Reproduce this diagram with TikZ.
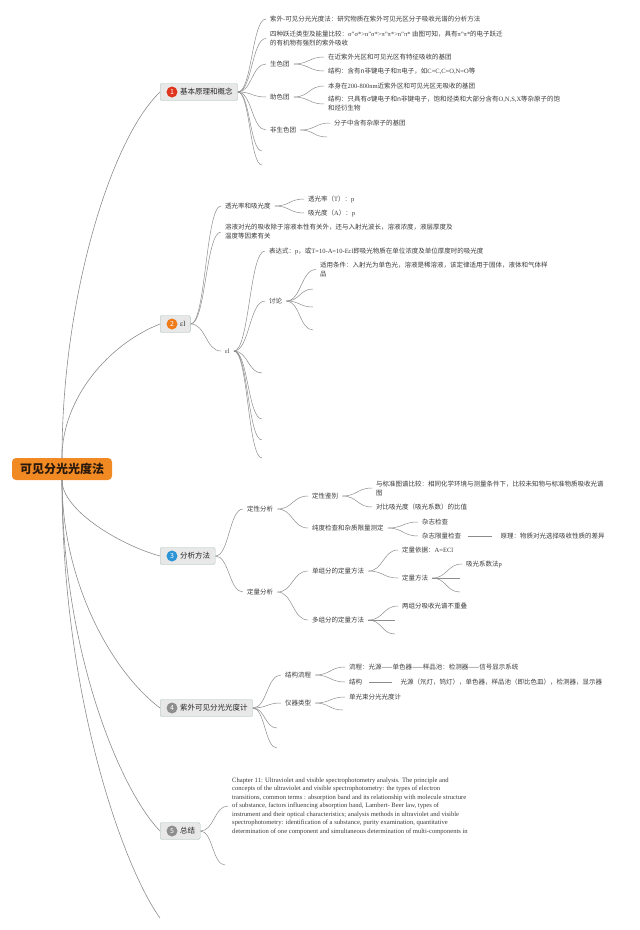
\documentclass[tikz,border=0pt]{standalone}
\usepackage{fontspec}
\setmainfont{Noto Sans CJK SC}
\newfontfamily\lat{Liberation Serif}
\usetikzlibrary{positioning, calc}
\definecolor{rootorange}{HTML}{F28A24}
\definecolor{roottext}{HTML}{2A1A0C}
\definecolor{topicfill}{HTML}{E8E8E8}
\definecolor{topicline}{HTML}{A9C2BA}
\definecolor{linegray}{HTML}{8C8C8C}
\definecolor{textgray}{HTML}{3A3A3A}
\definecolor{numred}{HTML}{E0341F}
\definecolor{numorange}{HTML}{F07B1B}
\definecolor{numblue}{HTML}{2D94D6}
\definecolor{numgray}{HTML}{8E8E8E}
\tikzstyle{root} = [rectangle, rounded corners=4pt, fill=rootorange, text=roottext,
                  minimum width=100pt, minimum height=22pt, font=\bfseries\fontsize{12}{12}\selectfont]
\tikzstyle{topic} = [rectangle, draw=topicline, fill=topicfill, rounded corners=1.5pt, anchor=west,
                  minimum height=17pt, inner xsep=5pt, text=black!85, font=\fontsize{7.5}{7.5}\selectfont]
\tikzstyle{num} = [circle, inner sep=0pt, minimum size=11pt, text=white, font=\fontsize{7}{7}\selectfont]
\tikzstyle{leaf} = [anchor=west, inner xsep=4pt, inner ysep=1pt, align=left, text=textgray,
                  font=\fontsize{6.5}{9}\selectfont]
\tikzstyle{para} = [leaf, font=\lat\fontsize{6.6}{8.5}\selectfont]
\tikzstyle{trunk} = [draw=linegray, line width=0.6pt]
\tikzstyle{branch} = [draw=linegray, line width=0.5pt,
                  to path={.. controls ($(\tikztostart)!0.5!(\tikztotarget |- \tikztostart)$)
                  and ($(\tikztotarget)!0.5!(\tikztostart |- \tikztotarget)$) .. (\tikztotarget)}]
\tikzstyle{link} = [draw=linegray, line width=0.5pt, shorten <=3pt, shorten >=4pt]
\begin{document}
\begin{tikzpicture}
        [x=1pt, y=-1pt]
        \useasboundingbox (0,0) rectangle (640,930);
        \node [root] (root) at (62,469) {可见分光光度法};

        \node [topic] (t1) at (160,92) {\hspace{15pt}基本原理和概念};
        \node [num, fill=numred] (n1) at ([xshift=12pt]t1.west) {1};
        \node [leaf] (a1) at (266,19) {紫外-可见分光光度法：研究物质在紫外可见光区分子吸收光谱的分析方法};
        \node [leaf] (a2) at (266,38.5) {四种跃迁类型及能量比较：{\lat σ”σ*>n”σ*>π”π*>n”π*} 由图可知，具有{\lat π”π*}的电子跃迁\\的有机物有强烈的紫外吸收};
        \node [leaf] (a3) at (266,64) {生色团};
        \node [leaf] (a31) at (324,57) {在近紫外光区和可见光区有特征吸收的基团};
        \node [leaf] (a32) at (324,71) {结构：含有n非键电子和π电子，如{\lat C=C,C=O,N=O}等};
        \node [leaf] (a4) at (266,97) {助色团};
        \node [leaf] (a41) at (324,86) {本身在{\lat 200-800nm}近紫外区和可见光区无吸收的基团};
        \node [leaf] (a42) at (324,104) {结构：只具有σ键电子和n非键电子，饱和烃类和大部分含有{\lat O,N,S,X}等杂原子的饱\\和烃衍生物};
        \node [leaf] (a5) at (266,130) {非生色团};
        \node [leaf] (a51) at (330,123) {分子中含有杂原子的基团};
        \coordinate (a52) at (327,137);
        \coordinate (a6) at (262,151);
        \coordinate (a7) at (262,165);

        \node [topic] (t2) at (160,324) {\hspace{15pt}{\lat εl}};
        \node [num, fill=numorange] (n2) at ([xshift=12pt]t2.west) {2};
        \node [leaf] (b1) at (221,206) {透光率和吸光度};
        \node [leaf] (b11) at (304,199) {透光率（{\lat T}）：{\lat p}};
        \node [leaf] (b12) at (304,213) {吸光度（{\lat A}）：{\lat p}};
        \node [leaf] (b2) at (221,232) {溶液对光的吸收除于溶液本性有关外，还与入射光波长，溶液浓度，液层厚度及\\温度等因素有关};
        \node [leaf] (b3) at (221,351) {{\lat εl}};
        \node [leaf] (b31) at (265,251) {表达式：{\lat p}，或{\lat T=10-A=10-Ecl}即吸光物质在单位浓度及单位厚度时的吸光度};
        \node [leaf] (b32) at (265,301) {讨论};
        \node [leaf] (b321) at (316,269.5) {适用条件：入射光为单色光，溶液是稀溶液，该定律适用于固体，液体和气体样\\品};
        \coordinate (b322) at (313,289);
        \coordinate (b323) at (313,307);
        \coordinate (b324) at (313,330);
        \coordinate (b33) at (262,373);
        \coordinate (b34) at (262,419);
        \coordinate (b35) at (262,440);
        \coordinate (b36) at (262,458);

        \node [topic] (t3) at (160,556) {\hspace{15pt}分析方法};
        \node [num, fill=numblue] (n3) at ([xshift=12pt]t3.west) {3};
        \node [leaf] (c1) at (243,509) {定性分析};
        \node [leaf] (c11) at (308,496) {定性鉴别};
        \node [leaf] (c111) at (372,488) {与标准图谱比较：相同化学环境与测量条件下，比较未知物与标准物质吸收光谱\\图};
        \node [leaf] (c112) at (372,507) {对比吸光度（吸光系数）的比值};
        \node [leaf] (c12) at (308,528) {纯度检查和杂质限量测定};
        \node [leaf] (c121) at (418,522) {杂志检查};
        \node [leaf] (c122) at (418,536) {杂志限量检查};
        \node [leaf, right=31pt of c122] (c123) {原理：物质对光选择吸收性质的差异};
        \node [leaf] (c2) at (243,592) {定量分析};
        \node [leaf] (c21) at (308,571) {单组分的定量方法};
        \node [leaf] (c211) at (398,550) {定量依据：{\lat A=ECl}};
        \node [leaf] (c212) at (398,578) {定量方法};
        \node [leaf] (c2121) at (462,564) {吸光系数法{\lat p}};
        \coordinate (c2122) at (460,578);
        \coordinate (c2123) at (460,592);
        \node [leaf] (c22) at (308,620) {多组分的定量方法};
        \node [leaf] (c221) at (398,606) {两组分吸收光谱不重叠};
        \coordinate (c222) at (395,620);
        \coordinate (c223) at (395,634);

        \node [topic] (t4) at (160,708) {\hspace{15pt}紫外可见分光光度计};
        \node [num, fill=numgray] (n4) at ([xshift=12pt]t4.west) {4};
        \node [leaf] (d1) at (281,675) {结构流程};
        \node [leaf] (d11) at (345,667) {流程：光源——单色器——样品池：检测器——信号显示系统};
        \node [leaf] (d12) at (345,682) {结构};
        \node [leaf, right=30pt of d12] (d121) {光源（氘灯，钨灯），单色器，样品池（即比色皿），检测器，显示器};
        \node [leaf] (d2) at (281,703) {仪器类型};
        \node [leaf] (d21) at (345,697) {单光束分光光度计};
        \coordinate (d22) at (343,710);
        \coordinate (d3) at (277,728);
        \coordinate (d4) at (277,748);

        \node [topic] (t5) at (160,831) {\hspace{15pt}总结};
        \node [num, fill=numgray] (n5) at ([xshift=12pt]t5.west) {5};
        \node [para] (f1) at (228,806) {Chapter 11: Ultraviolet and visible spectrophotometry analysis. The principle and\\
            concepts of the ultraviolet and visible spectrophotometry: the types of electron\\
            transitions, common terms : absorption band and its relationship with molecule structure\\
            of substance, factors influencing absorption band, Lambert- Beer law, types of\\
            instrument and their optical characteristics; analysis methods in ultraviolet and visible\\
            spectrophotometry: identification of a substance, purity examination, quantitative\\
            determination of one component and simultaneous determination of multi-components in};
        \coordinate (f2) at (225,865);
        \coordinate (t6) at (160,918);

        \draw [trunk] (root.north) .. controls +(0,-158) and +(-50,48) .. (t1.west);
        \draw [trunk] (root.north) .. controls +(0,-60) and +(-51,20) .. (t2.west);
        \draw [trunk] (root.south) .. controls +(0,30) and +(-40,-11) .. (t3.west);
        \draw [trunk] (root.south) .. controls +(0,100) and +(-50,-38) .. (t4.west);
        \draw [trunk] (root.south) .. controls +(0,170) and +(-40,-41) .. (t5.west);
        \draw [trunk] (root.south) .. controls +(0,220) and +(-35,-48) .. (t6);

        \draw [branch] (t1.east) to (a1.west);
        \draw [branch] (t1.east) to (a2.west);
        \draw [branch] (t1.east) to (a3.west);
        \draw [branch] (t1.east) to (a4.west);
        \draw [branch] (t1.east) to (a5.west);
        \draw [branch] (t1.east) to (a6);
        \draw [branch] (t1.east) to (a7);
        \draw [branch] (a3.east) to (a31.west);
        \draw [branch] (a3.east) to (a32.west);
        \draw [branch] (a4.east) to (a41.west);
        \draw [branch] (a4.east) to (a42.west);
        \draw [branch] (a5.east) to (a51.west);
        \draw [branch] (a5.east) to (a52);

        \draw [branch] (t2.east) to (b1.west);
        \draw [branch] (t2.east) to (b2.west);
        \draw [branch] (t2.east) to (b3.west);
        \draw [branch] (b1.east) to (b11.west);
        \draw [branch] (b1.east) to (b12.west);
        \draw [branch] (b3.east) to (b31.west);
        \draw [branch] (b3.east) to (b32.west);
        \draw [branch] (b3.east) to (b33);
        \draw [branch] (b3.east) to (b34);
        \draw [branch] (b3.east) to (b35);
        \draw [branch] (b3.east) to (b36);
        \draw [branch] (b32.east) to (b321.west);
        \draw [branch] (b32.east) to (b322);
        \draw [branch] (b32.east) to (b323);
        \draw [branch] (b32.east) to (b324);

        \draw [branch] (t3.east) to (c1.west);
        \draw [branch] (t3.east) to (c2.west);
        \draw [branch] (c1.east) to (c11.west);
        \draw [branch] (c1.east) to (c12.west);
        \draw [branch] (c11.east) to (c111.west);
        \draw [branch] (c11.east) to (c112.west);
        \draw [branch] (c12.east) to (c121.west);
        \draw [branch] (c12.east) to (c122.west);
        \draw [link] (c122) -- (c123);
        \draw [branch] (c2.east) to (c21.west);
        \draw [branch] (c2.east) to (c22.west);
        \draw [branch] (c21.east) to (c211.west);
        \draw [branch] (c21.east) to (c212.west);
        \draw [branch] (c212.east) to (c2121.west);
        \draw [branch] (c212.east) to (c2122);
        \draw [branch] (c212.east) to (c2123);
        \draw [branch] (c22.east) to (c221.west);
        \draw [branch] (c22.east) to (c222);
        \draw [branch] (c22.east) to (c223);

        \draw [branch] (t4.east) to (d1.west);
        \draw [branch] (t4.east) to (d2.west);
        \draw [branch] (t4.east) to (d3);
        \draw [branch] (t4.east) to (d4);
        \draw [branch] (d1.east) to (d11.west);
        \draw [branch] (d1.east) to (d12.west);
        \draw [link] (d12) -- (d121);
        \draw [branch] (d2.east) to (d21.west);
        \draw [branch] (d2.east) to (d22);

        \draw [branch] (t5.east) to (f1.west);
        \draw [branch] (t5.east) to (f2);

    \end{tikzpicture}
\end{document}
